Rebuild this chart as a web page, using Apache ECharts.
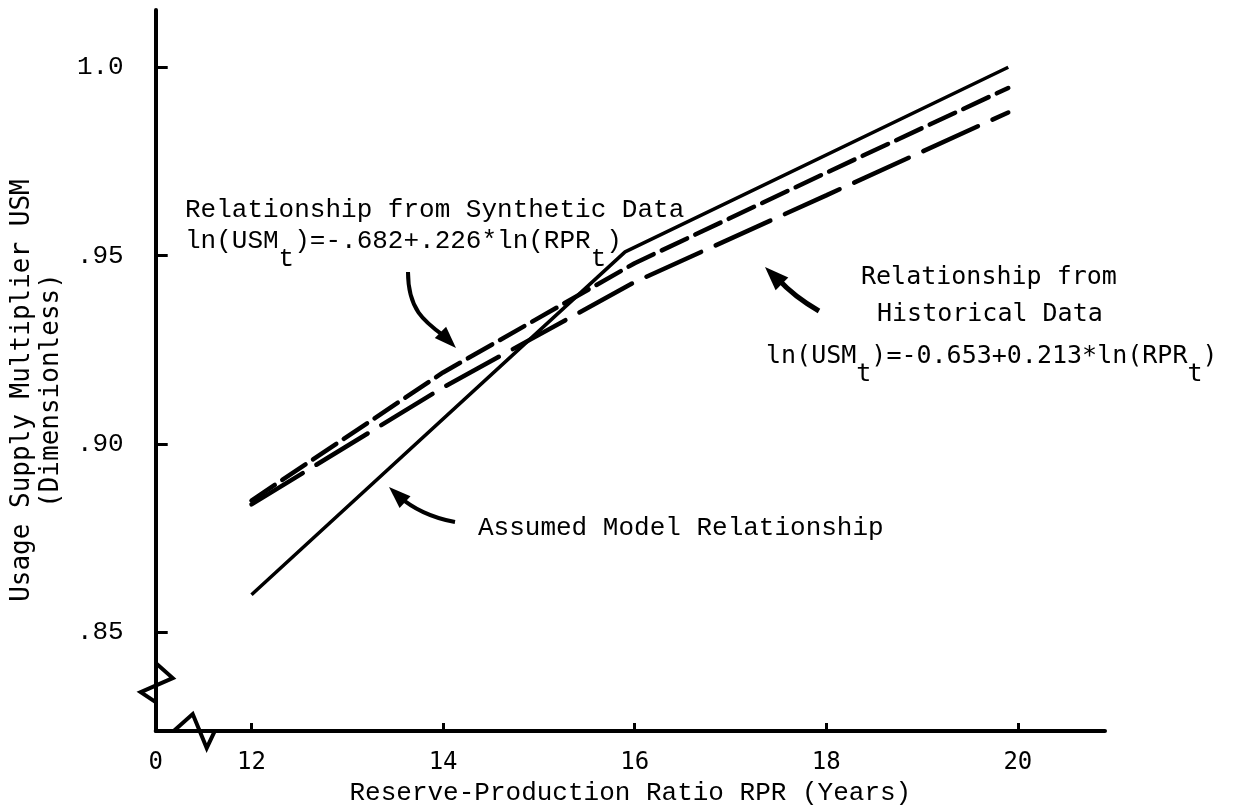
<!DOCTYPE html>
<html><head><meta charset="utf-8">
<script src="https://cdn.jsdelivr.net/npm/echarts@6/dist/echarts.min.js"></script>
<style>html,body{margin:0;padding:0;background:#fff}#c{width:1246px;height:811px}</style>
</head><body><div id="c"></div>
<script>
// ---- data ----
const rpr = [12, 14, 16, 18, 19.9];
const synthetic = [0.885, 0.919, 0.948, 0.972, 0.9945];
const historical = [0.884, 0.915, 0.943, 0.966, 0.988];
const assumedRpr = [12, 15.9, 19.9];
const assumed = [0.860, 0.951, 1.0];
const xTicks = [12, 14, 16, 18, 20];
const xOriginValue = 11;       // where the broken axis starts ("0")
const xOriginLabel = '0';
const yTicks = [0.85, 0.90, 0.95, 1.0];
const yTickLabels = ['.85', '.90', '.95', '1.0'];

const MONO = '"Liberation Mono", "Courier New", monospace';
const SANSMONO = '"DejaVu Sans Mono", monospace';

const chart = echarts.init(document.getElementById('c'), null, {renderer: 'canvas'});

const pair = (xs, ys) => xs.map((x, i) => [x, ys[i]]);

const option = {
  backgroundColor: '#ffffff',
  animation: false,
  grid: {left: 150, right: 141, top: 10, bottom: 71},
  xAxis: {
    type: 'value', min: xOriginValue, max: 20.91,
    splitLine: {show: false},
    axisLine: {lineStyle: {color: '#000', width: 4}},
    axisTick: {show: true, inside: true, length: 8, lineStyle: {color: '#000', width: 3}, customValues: xTicks},
    axisLabel: {
      customValues: [xOriginValue].concat(xTicks), margin: 20,
      color: '#000', fontFamily: SANSMONO, fontSize: 24,
      formatter: v => (v === xOriginValue ? xOriginLabel : String(v))
    },
    name: 'Reserve-Production Ratio RPR (Years)',
    nameLocation: 'middle', nameGap: 48,
    nameTextStyle: {color: '#000', fontFamily: MONO, fontSize: 26}
  },
  yAxis: {
    type: 'value', min: 0.8238, max: 1.0152,
    splitLine: {show: false},
    axisLine: {lineStyle: {color: '#000', width: 4}},
    axisTick: {show: true, inside: true, length: 12, lineStyle: {color: '#000', width: 3}, customValues: yTicks},
    axisLabel: {
      customValues: yTicks, margin: 32,
      color: '#000', fontFamily: MONO, fontSize: 26,
      formatter: v => { const i = yTicks.findIndex(t => Math.abs(t - v) < 1e-9); return i >= 0 ? yTickLabels[i] : ''; }
    },
    name: 'Usage Supply Multiplier USM\n(Dimensionless)',
    nameLocation: 'middle', nameGap: 80,
    nameTextStyle: {color: '#000', fontFamily: SANSMONO, fontSize: 26, lineHeight: 29, padding: [0, 40, 0, 0]}
  },
  series: [
    {name: 'Synthetic', type: 'line', data: pair(rpr, synthetic), symbol: 'none', silent: true,
     lineStyle: {color: '#000', width: 4.5, type: [28, 9], cap: 'round'}},
    {name: 'Historical', type: 'line', data: pair(rpr, historical), symbol: 'none', silent: true,
     lineStyle: {color: '#000', width: 4.5, type: [60, 16], cap: 'round'}},
    {name: 'Assumed', type: 'line', data: pair(assumedRpr, assumed), symbol: 'none', silent: true,
     lineStyle: {color: '#000', width: 3.5}}
  ]
};
chart.setOption(option);

// ---- decorations: axis breaks, annotations and arrows ----
const corner = chart.convertToPixel({gridIndex: 0}, [xOriginValue, 0.8238]);
const cx = corner[0], cy = corner[1];
const blk = {stroke: '#000', lineWidth: 4, fill: null, lineJoin: 'miter'};

function arrowHead(tip, from, len, wid) {
  const dx = tip[0] - from[0], dy = tip[1] - from[1];
  const d = Math.hypot(dx, dy); const ux = dx / d, uy = dy / d;
  const bx = tip[0] - ux * len, by = tip[1] - uy * len;
  return {type: 'polygon', shape: {points: [tip, [bx - uy * wid, by + ux * wid], [bx + uy * wid, by - ux * wid]]},
          style: {fill: '#000'}};
}
const rich = {
  a: {fontFamily: MONO, fontSize: 26, color: '#000'},
  s: {fontFamily: MONO, fontSize: 26, color: '#000', padding: [36, 0, 0, 0]}
};
const richH = {
  a: {fontFamily: SANSMONO, fontSize: 25, color: '#000'},
  s: {fontFamily: SANSMONO, fontSize: 25, color: '#000', padding: [36, 0, 0, 0]}
};
function txt(x, y, text, font, r) {
  const st = {text: text, fill: '#000', font: font || ('26px ' + MONO), verticalAlign: 'middle', align: 'left'};
  if (r) st.rich = r;
  return {type: 'text', x: x, y: y, style: st};
}

chart.setOption({
  graphic: [
    // y-axis break
    {type: 'line', shape: {x1: cx, y1: cy - 66, x2: cx, y2: cy - 30}, style: {stroke: '#fff', lineWidth: 8}},
    {type: 'polyline', shape: {points: [[cx, cy - 68], [cx + 17, cy - 53], [cx - 15, cy - 39], [cx, cy - 29]]}, style: blk},
    // x-axis break
    {type: 'line', shape: {x1: cx + 20, y1: cy, x2: cx + 58, y2: cy}, style: {stroke: '#fff', lineWidth: 8}},
    {type: 'polyline', shape: {points: [[cx + 18, cy], [cx + 37, cy - 17], [cx + 51, cy + 17], [cx + 59, cy]]}, style: blk},
    // annotations
    txt(185, 210, 'Relationship from Synthetic Data'),
    txt(185, 241, '{a|ln(USM}{s|t}{a|)=-.682+.226*ln(RPR}{s|t}{a|)}', null, rich),
    txt(861, 277, 'Relationship from', '25px ' + SANSMONO),
    txt(877, 314, 'Historical Data', '25px ' + SANSMONO),
    txt(766, 356, '{a|ln(USM}{s|t}{a|)=-0.653+0.213*ln(RPR}{s|t}{a|)}', null, richH),
    txt(478, 528, 'Assumed Model Relationship'),
    // arrows
    {type: 'bezierCurve', shape: {x1: 408, y1: 272, x2: 444, y2: 336, cpx1: 408, cpy1: 310, cpx2: 425, cpy2: 322}, style: {stroke: '#000', lineWidth: 4, fill: null}},
    arrowHead([456, 348], [438, 330], 22, 8),
    {type: 'bezierCurve', shape: {x1: 819, y1: 311, x2: 778, y2: 279, cpx1: 800, cpy1: 300, cpx2: 788, cpy2: 290}, style: {stroke: '#000', lineWidth: 5, fill: null}},
    arrowHead([765, 267], [782, 284], 24, 9),
    {type: 'bezierCurve', shape: {x1: 455, y1: 522, x2: 400, y2: 497, cpx1: 432, cpy1: 518, cpx2: 412, cpy2: 508}, style: {stroke: '#000', lineWidth: 4, fill: null}},
    arrowHead([389, 487], [405, 502], 22, 8)
  ]
});
</script></body></html>
